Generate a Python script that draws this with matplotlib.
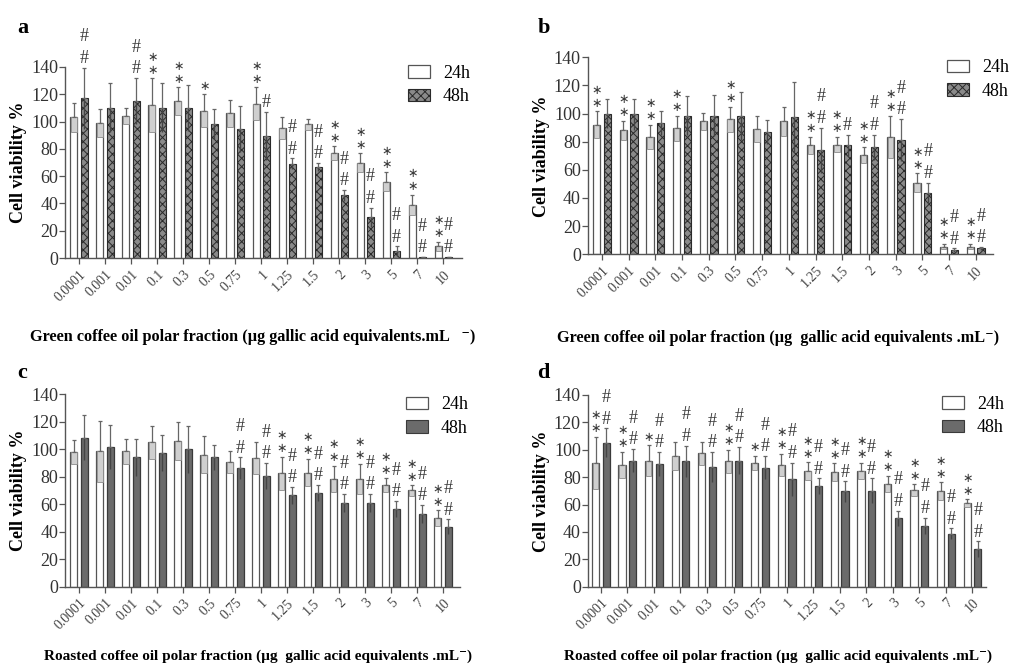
import matplotlib
matplotlib.use("Agg")
import matplotlib.pyplot as plt
from matplotlib.patches import Patch
import numpy as np

plt.rcParams["font.family"] = ["Liberation Serif", "DejaVu Serif"]
plt.rcParams["hatch.linewidth"] = 0.7

DOSES = ["0.0001", "0.001", "0.01", "0.1", "0.3", "0.5", "0.75", "1",
         "1.25", "1.5", "2", "3", "5", "7", "10"]

# panel a - green coffee oil, hatched 48h
A_24 = [103, 99, 104, 112, 115, 108, 106, 113, 95, 98, 77, 70, 56, 39, 8.5]
A_24_ERR = [10.5, 10, 6, 20, 10, 12, 10, 12, 8, 4, 5, 7, 7, 7.5, 3.5]
A_48 = [117, 110, 115, 110, 110, 98.5, 94.5, 89.5, 69, 66.5, 46, 30, 5, 0.6, 0.7]
A_48_ERR = [22.5, 18, 17, 18, 17, 11, 17, 17.5, 4, 3, 4, 7, 3.5, 0.3, 0.3]
A_MARK_24 = ["", "", "", "**", "**", "*", "", "**", "", "", "**", "**", "**", "**", "**"]
A_MARK_48 = ["##", "", "##", "", "", "", "", "#", "##", "##", "##", "##", "##", "##", "##"]

# panel b
B_24 = [92, 88, 83.5, 89.5, 94.5, 96, 89, 94.5, 77.5, 78, 70.5, 83.5, 51, 5.5, 5.5]
B_24_ERR = [9.5, 7, 8.5, 9, 6, 9, 9, 10.5, 6, 5.5, 5.5, 15, 6.5, 2, 2]
B_48 = [100, 99.5, 93, 98.5, 98.5, 98, 87, 97.5, 74, 77.5, 76, 81, 43.5, 3, 4.3]
B_48_ERR = [10, 11, 8.5, 14, 14.5, 17, 8.5, 25, 16, 7.5, 9, 15, 7.5, 1.3, 1]
B_MARK_24 = ["**", "**", "**", "**", "", "**", "", "", "**", "**", "**", "**", "**", "**", "**"]
B_MARK_48 = ["", "", "", "", "", "", "", "", "##", "#", "##", "##", "##", "##", "##"]

# panel c - roasted coffee oil, solid grey 48h
C_24 = [98, 98.5, 98.5, 105, 106, 96, 90.5, 93.5, 82.5, 83, 78.5, 78.5, 74, 70, 50]
C_24_ERR = [9, 22, 9, 12, 13.5, 13.5, 8, 11.5, 12, 10, 9.5, 11, 5, 4, 5.5]
C_48 = [108.5, 101.5, 94, 97.5, 100, 94, 86, 80.5, 66.5, 68, 61, 61, 56.5, 53, 43.5]
C_48_ERR = [16.5, 16, 13.5, 13, 17, 9, 8, 9.5, 6, 6, 6.5, 6.5, 6, 6.5, 5.5]
C_MARK_24 = ["", "", "", "", "", "", "", "", "**", "**", "**", "**", "**", "**", "**"]
C_MARK_48 = ["", "", "", "", "", "", "##", "##", "##", "##", "##", "##", "##", "##", "##"]

# panel d
D_24 = [90.5, 89, 92, 95.5, 97.5, 91.5, 90.5, 89, 84.5, 83.5, 84.5, 75, 70.5, 70, 61]
D_24_ERR = [19, 9.5, 11.5, 10.5, 8.5, 8.5, 5, 8, 6.5, 6.5, 6, 6, 4.5, 6.5, 3]
D_48 = [105, 92, 89.5, 91.5, 87.5, 92, 87, 78.5, 73.5, 69.5, 70, 50, 44.5, 38.5, 27.5]
D_48_ERR = [10.5, 8.5, 9, 11.5, 11, 10, 8.5, 12, 5.5, 7.5, 9, 5.5, 6, 4, 5.5]
D_MARK_24 = ["**", "**", "*", "", "", "**", "*", "**", "**", "**", "**", "**", "**", "**", "**"]
D_MARK_48 = ["##"] * 15

GREEN_LABEL = "Green coffee oil polar fraction (\u00b5g gallic acid equivalents.mL   \u207b)"
GREEN_LABEL_B = "Green coffee oil polar fraction (\u00b5g  gallic acid equivalents .mL\u207b)"
ROAST_LABEL = "Roasted coffee oil polar fraction (\u00b5g  gallic acid equivalents .mL\u207b)"

EDGE = "#555555"
W = 0.27
OFF = 0.2
HATCH_FACE = "#8a8a8a"
SOLID_FACE = "#6b6b6b"


def draw_marks(ax, xs, vs, es, marks):
    # one text per stack of significance marks, placed above the SD cap
    for xi, vi, ei, mi in zip(xs, vs, es, marks):
        if not mi:
            continue
        if mi[0] == "*":
            txt = "\n".join([r"$\ast$"] * len(mi))
            ax.annotate(txt, (xi, vi + ei), xytext=(0, 1), textcoords="offset points",
                        ha="center", va="bottom", fontsize=9, linespacing=1.0,
                        color="#3a3a3a", zorder=4, annotation_clip=False)
        else:
            ax.annotate("\n".join(mi), (xi, vi + ei), xytext=(0, 0.5),
                        textcoords="offset points", ha="center", va="bottom",
                        fontsize=13, linespacing=1.35, color="#3a3a3a", zorder=4,
                        annotation_clip=False)


def draw_panel(ax, v24, e24, v48, e48, m24, m48, hatched, xlim):
    x = np.arange(len(DOSES))
    x24, x48 = x - OFF, x + OFF
    ax.bar(x24, v24, W, color="white", edgecolor=EDGE, linewidth=0.9, zorder=2)
    if hatched:
        ax.bar(x48, v48, W, color=HATCH_FACE, edgecolor="#2a2a2a", hatch="xxxx",
               linewidth=0.8, zorder=2)
    else:
        ax.bar(x48, v48, W, color=SOLID_FACE, edgecolor="#3a3a3a", linewidth=0.9, zorder=2)
    # lower half of the SD shown as a shaded band inside the bar
    lo24 = np.minimum(e24, v24)
    ax.bar(x24, lo24, W * 0.75, bottom=np.array(v24) - lo24, color="#cfcfcf",
           edgecolor="#8a8a8a", linewidth=0.6, zorder=3)
    lo48 = np.minimum(e48, v48)
    ax.vlines(x48, np.array(v48) - lo48, v48, color="#444444", lw=1.0, zorder=3)
    zeros = np.zeros(len(x))
    ax.errorbar(x24, v24, yerr=[zeros, e24], fmt="none", ecolor="#666666",
                elinewidth=0.9, capsize=1.5, capthick=0.9, zorder=3)
    ax.errorbar(x48, v48, yerr=[zeros, e48], fmt="none", ecolor="#666666",
                elinewidth=0.9, capsize=1.5, capthick=0.9, zorder=3)
    draw_marks(ax, x24, v24, e24, m24)
    draw_marks(ax, x48, v48, e48, m48)

    ax.set_xlim(*xlim)
    ax.set_ylim(0, 140)
    ax.set_yticks(range(0, 141, 20))
    ax.set_xticks(x)
    ax.set_xticklabels(DOSES, rotation=45, ha="right", rotation_mode="anchor",
                       fontsize=10, color="#444444")
    ax.tick_params(axis="y", labelsize=13, labelcolor="#333333", color=EDGE,
                   length=4, width=0.9, pad=1)
    ax.tick_params(axis="x", length=4, width=0.9, color=EDGE, pad=3)
    for s in ("top", "right"):
        ax.spines[s].set_visible(False)
    for s in ("left", "bottom"):
        ax.spines[s].set_color(EDGE)
        ax.spines[s].set_linewidth(1.0)
    ax.set_ylabel("Cell viability %", fontsize=13, fontweight="bold", labelpad=3)


def add_legend(ax, hatched, anchor):
    if hatched:
        h48 = Patch(facecolor=HATCH_FACE, edgecolor="#2a2a2a", hatch="xxxx", linewidth=0.8)
    else:
        h48 = Patch(facecolor=SOLID_FACE, edgecolor="#3a3a3a", linewidth=0.8)
    h24 = Patch(facecolor="white", edgecolor=EDGE, linewidth=0.9)
    ax.legend([h24, h48], ["24h", "48h"], loc="upper left", bbox_to_anchor=anchor,
              frameon=False, fontsize=13, handlelength=1.25, handleheight=0.7,
              handletextpad=0.7, labelspacing=0.35, borderaxespad=0, borderpad=0)


fig = plt.figure(figsize=(10.1, 6.66), dpi=100)
ax_a = fig.add_axes([0.0644, 0.6126, 0.3926, 0.2868])
ax_b = fig.add_axes([0.582, 0.6182, 0.401, 0.2958])
ax_c = fig.add_axes([0.0644, 0.1191, 0.391, 0.2889])
ax_d = fig.add_axes([0.582, 0.1191, 0.394, 0.2879])

draw_panel(ax_a, A_24, A_24_ERR, A_48, A_48_ERR, A_MARK_24, A_MARK_48, True, (-0.54, 14.7))
draw_panel(ax_b, B_24, B_24_ERR, B_48, B_48_ERR, B_MARK_24, B_MARK_48, True, (-0.53, 14.64))
draw_panel(ax_c, C_24, C_24_ERR, C_48, C_48_ERR, C_MARK_24, C_MARK_48, False, (-0.54, 14.65))
draw_panel(ax_d, D_24, D_24_ERR, D_48, D_48_ERR, D_MARK_24, D_MARK_48, False, (-0.49, 14.5))

add_legend(ax_a, True, (0.864, 1.01))
add_legend(ax_b, True, (0.886, 0.99))
add_legend(ax_c, False, (0.863, 0.99))
add_legend(ax_d, False, (0.889, 0.995))

fig.text(0.250, 0.494, GREEN_LABEL, ha="center", va="center", fontsize=11.7, fontweight="bold")
fig.text(0.770, 0.492, GREEN_LABEL_B, ha="center", va="center", fontsize=11.7, fontweight="bold")
fig.text(0.255, 0.014, ROAST_LABEL, ha="center", va="center", fontsize=11, fontweight="bold")
fig.text(0.770, 0.014, ROAST_LABEL, ha="center", va="center", fontsize=11, fontweight="bold")

for letter, xx, yy in (("a", 0.017, 0.958), ("b", 0.532, 0.958),
                       ("c", 0.017, 0.44), ("d", 0.532, 0.44)):
    fig.text(xx, yy, letter, fontsize=16, fontweight="bold", ha="left", va="center")

fig.savefig("out.png", dpi=100, facecolor="white")
